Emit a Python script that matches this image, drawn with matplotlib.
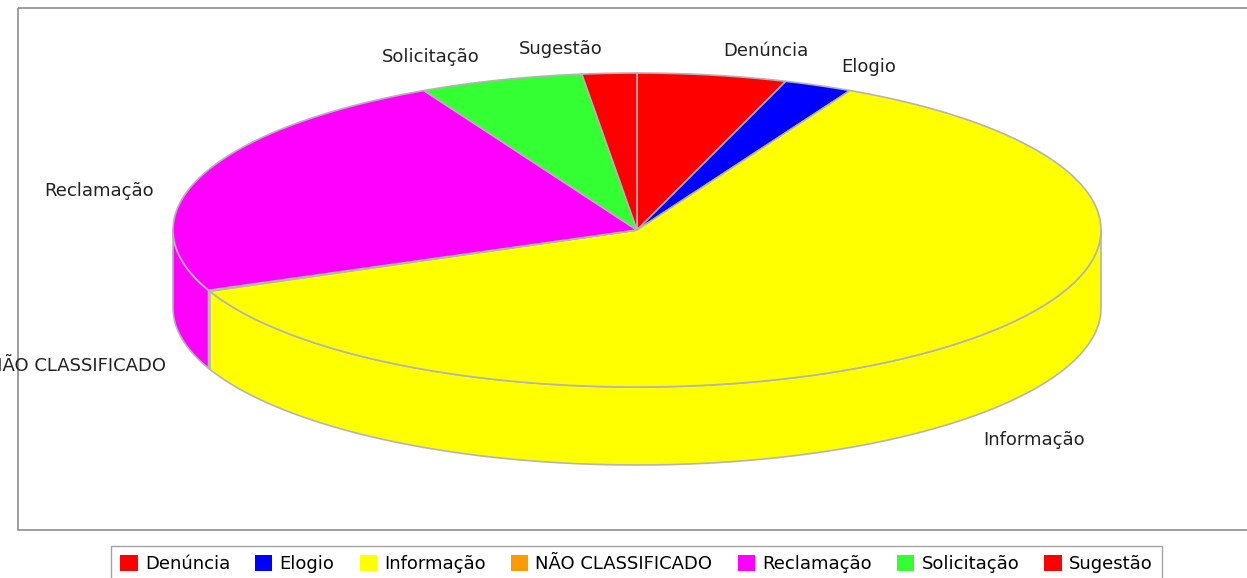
import numpy as np
import matplotlib
matplotlib.use("Agg")
import matplotlib.pyplot as plt
from matplotlib.patches import Polygon, Rectangle, Patch

# data
categorias = ["Denúncia", "Elogio", "Informação", "NÃO CLASSIFICADO",
              "Reclamação", "Solicitação", "Sugestão"]
valores = [5.2, 2.4, 61.1, 0.1, 23.7, 5.7, 1.9]
cores = ["#ff0000", "#0000ff", "#ffff00", "#ff9900",
         "#ff00ff", "#33ff33", "#ff0000"]

# layout (pixels)
W, H = 1247, 578
cx, cy = 637, 230
rx, ry = 464, 157
depth = 78
edge = "#b4b4b4"

# label anchor positions (text centre), pixels
pos_rotulos = {
    "Denúncia": (766, 51, "center"),
    "Elogio": (869, 67, "center"),
    "Informação": (1034, 440, "center"),
    "NÃO CLASSIFICADO": (166, 366, "right"),
    "Reclamação": (99, 191, "center"),
    "Solicitação": (431, 57, "center"),
    "Sugestão": (561, 49, "center"),
}

fig = plt.figure(figsize=(W / 100, H / 100), dpi=100)
ax = fig.add_axes([0, 0, 1, 1])
ax.set_xlim(0, W)
ax.set_ylim(H, 0)
ax.axis("off")

# plot area border
ax.add_patch(Rectangle((18, 8), W, 522, fill=False, ec="#8c8c8c", lw=1.2, zorder=0))

v = np.array(valores, dtype=float)
ang = v / v.sum() * 360.0
inicio = 90 - np.concatenate([[0], np.cumsum(ang)[:-1]])
fim = inicio - ang


def pt(t, dz=0):
    r = np.radians(t)
    return cx + rx * np.cos(r), cy - ry * np.sin(r) + dz


# sides (front half only)
for a0, a1, c in zip(inicio, fim, cores):
    lo, hi = min(a0, a1), max(a0, a1)
    for k in range(-2, 2):
        s, e = max(lo, 180 + 360 * k), min(hi, 360 + 360 * k)
        if e - s <= 0.01:
            continue
        t = np.linspace(s, e, 120)
        x, y = pt(t)
        xs = np.concatenate([x, x[::-1]])
        ys = np.concatenate([y, (y + depth)[::-1]])
        ax.add_patch(Polygon(np.column_stack([xs, ys]), closed=True,
                             fc=c, ec=edge, lw=1.2, zorder=1))

# top faces
for a0, a1, c in zip(inicio, fim, cores):
    t = np.linspace(a0, a1, max(int(abs(a0 - a1) * 2), 4))
    x, y = pt(t)
    xs = np.concatenate([[cx], x])
    ys = np.concatenate([[cy], y])
    ax.add_patch(Polygon(np.column_stack([xs, ys]), closed=True,
                         fc=c, ec=edge, lw=1.2, zorder=2))

# labels
for nome in categorias:
    x, y, ha = pos_rotulos[nome]
    ax.text(x, y, nome, ha=ha, va="center", fontsize=13,
            color="#222222", zorder=3)

# legend
alcas = [Patch(fc=c, ec="none") for c in cores]
leg = fig.legend(alcas, categorias, loc="upper center", ncol=len(categorias),
                 bbox_to_anchor=(0.5104, 1 - 546 / H), frameon=True, fancybox=False,
                 fontsize=13, handlelength=0.95, handleheight=0.95,
                 handletextpad=0.4, columnspacing=1.4, borderpad=0.5,
                 borderaxespad=0.0)
leg.get_frame().set_edgecolor("#8c8c8c")
leg.get_frame().set_linewidth(1.0)

fig.savefig("out.png", dpi=100)
